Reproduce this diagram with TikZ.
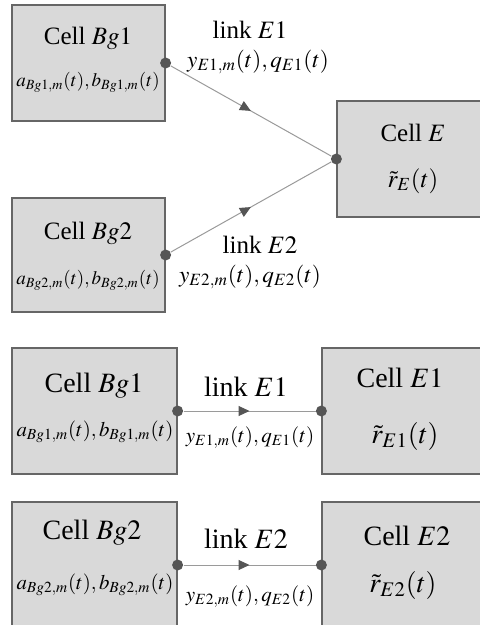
\documentclass[tikz,border=0pt]{standalone}
\usepackage{mathptmx}
\usepackage{fontspec}
\setmainfont{Liberation Serif}
\usetikzlibrary{arrows.meta,fit,decorations.markings}
\definecolor{cellfill}{HTML}{D9D9D9}
\definecolor{celledge}{HTML}{666666}
\definecolor{linkc}{HTML}{9A9A9A}
\definecolor{dotc}{HTML}{555555}
\tikzset{
  cell/.style={draw=celledge,fill=cellfill,line width=0.6pt,inner sep=0pt},
  port/.style={circle,fill=dotc,inner sep=0pt,minimum size=5.5pt},
  link/.style={draw=linkc,line width=0.5pt,postaction={decorate},
    decoration={markings,mark=at position 0.5 with {\arrow[dotc]{Triangle[length=5.5pt,width=5pt]}}}},
  ttl/.style={font=\fontsize{12.5}{15}\selectfont,inner sep=0pt},
  frm/.style={font=\fontsize{9.5}{11}\selectfont,inner sep=0pt},
  lnk/.style={font=\fontsize{11.6}{14}\selectfont,inner sep=0pt},
}

\begin{document}
\begin{tikzpicture}[x=0.5pt,y=-0.5pt]
\clip (0,0) rectangle (480,625);
% merged cell E
\node[cell,fit={(12,5) (165,121)}] (bg1) {};
\node[cell,fit={(12,198) (165,312)}] (bg2) {};
\node[cell,fit={(337,101) (492,217)}] (e) {};
\node[ttl] (bg1t) at (88,38) {Cell $Bg1$};
\node[frm] (bg1f) at (88,82) {$a_{Bg1,m}(t),b_{Bg1,m}(t)$};
\node[ttl] (bg2t) at (88,233) {Cell $Bg2$};
\node[frm] (bg2f) at (88,280) {$a_{Bg2,m}(t),b_{Bg2,m}(t)$};
\node[ttl] (et) at (413,133) {Cell $E$};
\node[ttl] (ef) at (413,181) {$\tilde{r}_E(t)$};
\node[port] (bg1o) at (bg1.east) {};
\node[port] (bg2o) at (bg2.east) {};
\node[port] (ei) at (e.west) {};
\draw[link] (bg1o) -- (ei);
\draw[link] (bg2o) -- (ei);
\node[ttl] (l1t) at (250,30) {link $E1$};
\node[lnk] (l1f) at (258,62) {$y_{E1,m}(t),q_{E1}(t)$};
\node[ttl] (l2t) at (260,245) {link $E2$};
\node[lnk] (l2f) at (250,277) {$y_{E2,m}(t),q_{E2}(t)$};

% split cells E1, E2
\begin{scope}[ttl/.append style={font=\fontsize{14}{16}\selectfont},
  frm/.append style={font=\fontsize{10.4}{12}\selectfont},
  lnk/.append style={font=\fontsize{10.5}{12}\selectfont}]
\node[cell,fit={(12,348) (177,474)}] (sbg1) {};
\node[cell,fit={(322,348) (492,474)}] (se1) {};
\node[cell,fit={(12,502) (177,628)}] (sbg2) {};
\node[cell,fit={(322,502) (492,628)}] (se2) {};
\node[ttl] (sbg1t) at (94,386) {Cell $Bg1$};
\node[frm] (sbg1f) at (95,432) {$a_{Bg1,m}(t),b_{Bg1,m}(t)$};
\node[ttl] (se1t) at (400,378) {Cell $E1$};
\node[ttl] (se1f) at (405,436) {$\tilde{r}_{E1}(t)$};
\node[ttl] (sbg2t) at (92,533) {Cell $Bg2$};
\node[frm] (sbg2f) at (95,585) {$a_{Bg2,m}(t),b_{Bg2,m}(t)$};
\node[ttl] (se2t) at (407,536) {Cell $E2$};
\node[ttl] (se2f) at (403,585) {$\tilde{r}_{E2}(t)$};
\node[port] (sbg1o) at (sbg1.east) {};
\node[port] (se1i) at (se1.west) {};
\node[port] (sbg2o) at (sbg2.east) {};
\node[port] (se2i) at (se2.west) {};
\draw[link] (sbg1o) -- (se1i);
\draw[link] (sbg2o) -- (se2i);
\node[ttl] (sl1t) at (246,387) {link $E1$};
\node[lnk] (sl1f) at (250,438) {$y_{E1,m}(t),q_{E1}(t)$};
\node[ttl] (sl2t) at (246,539) {link $E2$};
\node[lnk] (sl2f) at (250,597) {$y_{E2,m}(t),q_{E2}(t)$};
\end{scope}
\end{tikzpicture}
\end{document}
